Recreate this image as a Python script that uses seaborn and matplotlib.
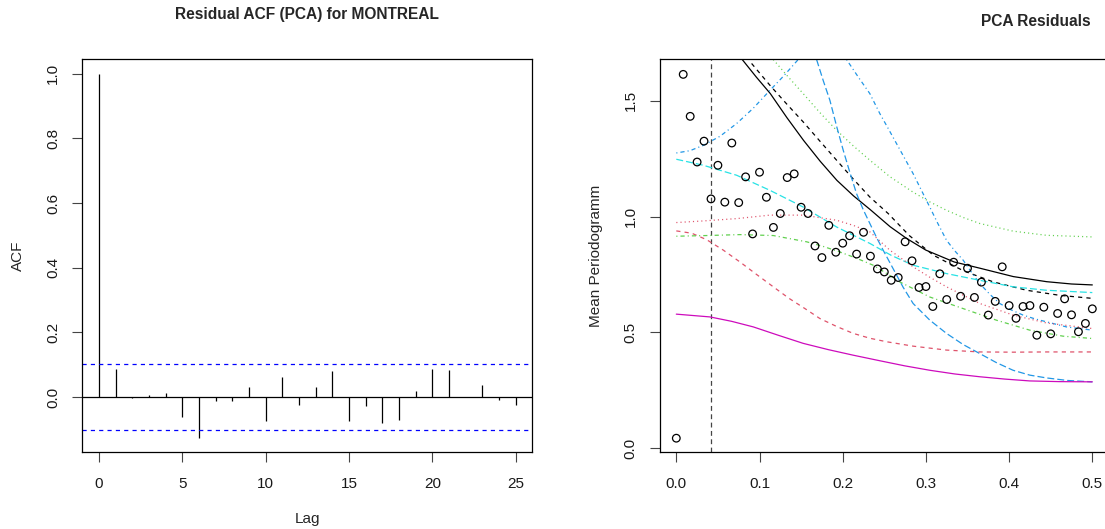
import matplotlib
matplotlib.use("Agg")
import matplotlib.pyplot as plt
import seaborn as sns

# ---- residual autocorrelation ----
lags = list(range(26))
acf_vals = [1.0, 0.088, -0.002, 0.005, 0.011, -0.063, -0.127, -0.013, -0.013, 0.031,
            -0.075, 0.063, -0.026, 0.031, 0.079, -0.075, -0.028, -0.079, -0.070, 0.018,
            0.087, 0.085, -0.001, 0.038, -0.009, -0.025]
conf_bound = 0.1026

# ---- mean periodogram of the residuals ----
pgram_freq = [0.0, 0.0083, 0.0167, 0.025, 0.0333, 0.0417, 0.05, 0.0583, 0.0667, 0.075,
              0.0833, 0.0917, 0.1, 0.1083, 0.1167, 0.125, 0.1333, 0.1417, 0.15, 0.1583,
              0.1667, 0.175, 0.1833, 0.1917, 0.2, 0.2083, 0.2167, 0.225, 0.2333, 0.2417,
              0.25, 0.2583, 0.2667, 0.275, 0.2833, 0.2917, 0.3, 0.3083, 0.3167, 0.325,
              0.3333, 0.3417, 0.35, 0.3583, 0.3667, 0.375, 0.3833, 0.3917, 0.4, 0.4083,
              0.4167, 0.425, 0.4333, 0.4417, 0.45, 0.4583, 0.4667, 0.475, 0.4833, 0.4917,
              0.5]
pgram_vals = [0.044, 1.613, 1.432, 1.235, 1.325, 1.076, 1.221, 1.062, 1.317, 1.060,
              1.171, 0.925, 1.191, 1.083, 0.953, 1.013, 1.168, 1.184, 1.040, 1.013,
              0.873, 0.823, 0.962, 0.846, 0.885, 0.917, 0.838, 0.932, 0.829, 0.774,
              0.761, 0.725, 0.737, 0.891, 0.809, 0.694, 0.698, 0.612, 0.753, 0.642,
              0.803, 0.656, 0.777, 0.651, 0.717, 0.575, 0.634, 0.783, 0.616, 0.561,
              0.612, 0.616, 0.488, 0.609, 0.494, 0.582, 0.645, 0.576, 0.503, 0.539,
              0.602]
cutoff_freq = 0.0417

# candidate spectral densities (frequency, density)
spec_black_solid_f = [0.079, 0.096, 0.113, 0.133, 0.153, 0.173, 0.193, 0.213, 0.233, 0.257,
                      0.277, 0.30, 0.334, 0.365, 0.405, 0.445, 0.475, 0.5]
spec_black_solid_v = [1.678, 1.602, 1.53, 1.426, 1.328, 1.238, 1.156, 1.089, 1.03, 0.956,
                      0.905, 0.855, 0.804, 0.777, 0.741, 0.719, 0.709, 0.705]

spec_black_dash_f = [0.0905, 0.1125, 0.1325, 0.1525, 0.1726, 0.1926, 0.2126, 0.2326, 0.2546,
                     0.28, 0.309, 0.345, 0.381, 0.421, 0.461, 0.5]
spec_black_dash_v = [1.66, 1.566, 1.486, 1.408, 1.325, 1.243, 1.162, 1.084, 1.013,
                     0.918, 0.833, 0.766, 0.718, 0.682, 0.66, 0.647]

spec_green_dot_f = [0.1165, 0.1345, 0.1525, 0.1726, 0.1926, 0.2126, 0.2326, 0.2566, 0.2846,
                    0.3047, 0.3247, 0.3447, 0.3647, 0.4047, 0.4448, 0.5]
spec_green_dot_v = [1.677, 1.602, 1.53, 1.448, 1.372, 1.305, 1.243, 1.172, 1.105,
                    1.063, 1.027, 0.996, 0.97, 0.937, 0.919, 0.912]

spec_blue_rise_f = [0.0, 0.0165, 0.0325, 0.0525, 0.0725, 0.0925, 0.1125, 0.1295, 0.1465]
spec_blue_rise_v = [1.274, 1.284, 1.307, 1.346, 1.401, 1.467, 1.544, 1.608, 1.677]

spec_blue_long_f = [0.1686, 0.1766, 0.1846, 0.1926, 0.2006, 0.2086, 0.2166, 0.2246, 0.2326,
                    0.2406, 0.2486, 0.2606, 0.2726, 0.2846, 0.3047, 0.3247, 0.3447, 0.3647,
                    0.3847, 0.4047, 0.4248, 0.4448, 0.47, 0.5]
spec_blue_long_v = [1.677, 1.586, 1.501, 1.39, 1.286, 1.19, 1.099, 1.03, 0.97,
                    0.91, 0.855, 0.775, 0.695, 0.625, 0.553, 0.496, 0.448, 0.409,
                    0.37, 0.337, 0.316, 0.304, 0.293, 0.287]

spec_blue_steep_f = [0.2046, 0.2186, 0.2326, 0.2446, 0.2546, 0.2646, 0.2746, 0.2846, 0.2946,
                     0.3046, 0.3146, 0.3247, 0.3347, 0.3447, 0.3547, 0.3647, 0.3767, 0.3887,
                     0.4027, 0.4167, 0.4307, 0.4448, 0.4688, 0.5]
spec_blue_steep_v = [1.677, 1.602, 1.53, 1.444, 1.38, 1.315, 1.25, 1.185, 1.113,
                     1.041, 0.968, 0.898, 0.852, 0.812, 0.76, 0.711, 0.665, 0.625,
                     0.597, 0.575, 0.559, 0.546, 0.524, 0.51]

spec_cyan_f = [0.0, 0.0325, 0.0725, 0.1125, 0.1525, 0.1926, 0.2326, 0.2586, 0.2846, 0.3247,
               0.3647, 0.4047, 0.4448, 0.5]
spec_cyan_v = [1.247, 1.221, 1.178, 1.113, 1.041, 0.955, 0.884, 0.832, 0.79, 0.754,
               0.725, 0.697, 0.682, 0.672]

spec_pink_f = [0.0, 0.0325, 0.0725, 0.1125, 0.1525, 0.1926, 0.2126, 0.2326, 0.2566, 0.2846,
               0.3047, 0.3247, 0.3647, 0.4047, 0.4448, 0.5]
spec_pink_v = [0.974, 0.981, 0.991, 1.006, 1.006, 0.984, 0.962, 0.934, 0.855, 0.783,
               0.738, 0.697, 0.625, 0.575, 0.541, 0.517]

spec_red_f = [0.0, 0.0185, 0.0365, 0.0565, 0.0765, 0.0965, 0.1165, 0.1355, 0.1546, 0.1726,
              0.1926, 0.2126, 0.2327, 0.2527, 0.2846, 0.3247, 0.3647, 0.4047, 0.4448, 0.5]
spec_red_v = [0.938, 0.928, 0.9, 0.855, 0.804, 0.75, 0.697, 0.647, 0.603, 0.56,
              0.526, 0.496, 0.475, 0.46, 0.441, 0.424, 0.416, 0.415, 0.416, 0.416]

spec_green_dd_f = [0.0, 0.0365, 0.0765, 0.1165, 0.1566, 0.1766, 0.1966, 0.2166, 0.2366,
                   0.2526, 0.2686, 0.3046, 0.3447, 0.3847, 0.4247, 0.4648, 0.5]
spec_green_dd_v = [0.915, 0.918, 0.922, 0.918, 0.891, 0.871, 0.847, 0.82, 0.79,
                   0.755, 0.718, 0.653, 0.603, 0.553, 0.51, 0.484, 0.474]

spec_magenta_f = [0.0, 0.0405, 0.0665, 0.0925, 0.1225, 0.1525, 0.1826, 0.2126, 0.2446, 0.2746,
                  0.3046, 0.3347, 0.3647, 0.3947, 0.4247, 0.46, 0.5]
spec_magenta_v = [0.579, 0.567, 0.548, 0.524, 0.488, 0.453, 0.426, 0.402, 0.378, 0.356,
                  0.337, 0.321, 0.309, 0.299, 0.291, 0.288, 0.287]

sns.set_theme(style="white")
plt.rcParams["font.family"] = ["Liberation Sans", "DejaVu Sans"]
plt.rcParams["lines.scale_dashes"] = False
plt.rcParams["axes.linewidth"] = 0.9

fig = plt.figure(figsize=(11.05, 5.29), dpi=100)
W, H = 1105, 529
TICK_FS = 11
LABEL_FS = 11
TITLE_FS = 11.2


def px_axes(x0, y0, x1, y1):
    return fig.add_axes([x0 / W, 1 - y1 / H, (x1 - x0) / W, (y1 - y0) / H])


def style_axes(ax):
    for s in ax.spines.values():
        s.set_color("black")
        s.set_linewidth(0.9)
    ax.tick_params(axis="both", which="both", direction="out", length=7, width=0.8,
                   color="#444444", labelsize=TICK_FS, labelcolor="#1a1a1a",
                   left=True, bottom=True, pad=9)
    ax.tick_params(axis="x", pad=11)
    for lab in ax.get_yticklabels():
        lab.set_rotation(90)
        lab.set_va("center")


# ---------------- left panel: ACF ----------------
ax1 = px_axes(82.3, 59.3, 532.3, 452)
ax1.vlines(lags, 0, acf_vals, color="black", linewidth=0.9)
ax1.axhline(0, color="black", linewidth=0.9)
for b in (conf_bound, -conf_bound):
    ax1.axhline(b, color="#0000FF", linewidth=0.9, dashes=(3.0, 3.0))
ax1.set_xlim(-1.0, 26.0)
ax1.set_ylim(-0.170, 1.0445)
ax1.set_xticks([0, 5, 10, 15, 20, 25])
ax1.set_yticks([0.0, 0.2, 0.4, 0.6, 0.8, 1.0])
ax1.set_yticklabels(["0.0", "0.2", "0.4", "0.6", "0.8", "1.0"])
style_axes(ax1)
ax1.set_xlabel("Lag", fontsize=LABEL_FS, labelpad=15)
ax1.set_ylabel("ACF", fontsize=LABEL_FS, labelpad=15)
fig.text(307 / W, 1 - 15 / H, "Residual ACF (PCA) for MONTREAL", ha="center", va="center",
         fontsize=TITLE_FS, fontweight="bold")

# ---------------- right panel: periodogram ----------------
ax2 = px_axes(660, 59.3, 1109.3, 452)
ax2.axvline(cutoff_freq, color="#444444", linewidth=0.9, dashes=(3.5, 2.5))

curves = [
    (spec_black_solid_f, spec_black_solid_v, "black", "-"),
    (spec_black_dash_f, spec_black_dash_v, "black", (0, (3.0, 3.0))),
    (spec_green_dot_f, spec_green_dot_v, "#61D04F", (0, (0.8, 2.2))),
    (spec_blue_rise_f, spec_blue_rise_v, "#2297E6", (0, (0.8, 2.2, 3.0, 2.2))),
    (spec_blue_long_f, spec_blue_long_v, "#2297E6", (0, (5.0, 2.2))),
    (spec_blue_steep_f, spec_blue_steep_v, "#2297E6", (0, (0.8, 2.2, 3.0, 2.2))),
    (spec_cyan_f, spec_cyan_v, "#28E2E5", (0, (5.0, 2.2))),
    (spec_pink_f, spec_pink_v, "#DF536B", (0, (0.8, 2.2))),
    (spec_red_f, spec_red_v, "#DF536B", (0, (3.0, 3.0))),
    (spec_green_dd_f, spec_green_dd_v, "#61D04F", (0, (0.8, 2.2, 3.0, 2.2))),
    (spec_magenta_f, spec_magenta_v, "#CD0BBC", "-"),
]
for fx, fy, col, ls in curves:
    sns.lineplot(x=fx, y=fy, ax=ax2, color=col, linestyle=ls, linewidth=0.9,
                 errorbar=None, sort=False)

sns.scatterplot(x=pgram_freq, y=pgram_vals, ax=ax2, marker="o", s=30,
                facecolor="none", edgecolor="black", linewidth=0.9, zorder=5)

ax2.set_xlim(-0.0196, 0.5204)
ax2.set_ylim(-0.0155, 1.678)
ax2.set_xticks([0.0, 0.1, 0.2, 0.3, 0.4, 0.5])
ax2.set_xticklabels(["0.0", "0.1", "0.2", "0.3", "0.4", "0.5"])
ax2.set_yticks([0.0, 0.5, 1.0, 1.5])
ax2.set_yticklabels(["0.0", "0.5", "1.0", "1.5"])
style_axes(ax2)
ax2.set_xlabel("")
ax2.set_ylabel("Mean Periodogramm", fontsize=LABEL_FS, labelpad=15)
fig.text(1036 / W, 1 - 22 / H, "PCA Residuals", ha="center", va="center",
         fontsize=TITLE_FS, fontweight="bold")

fig.savefig("out.png", dpi=100, facecolor="white")
